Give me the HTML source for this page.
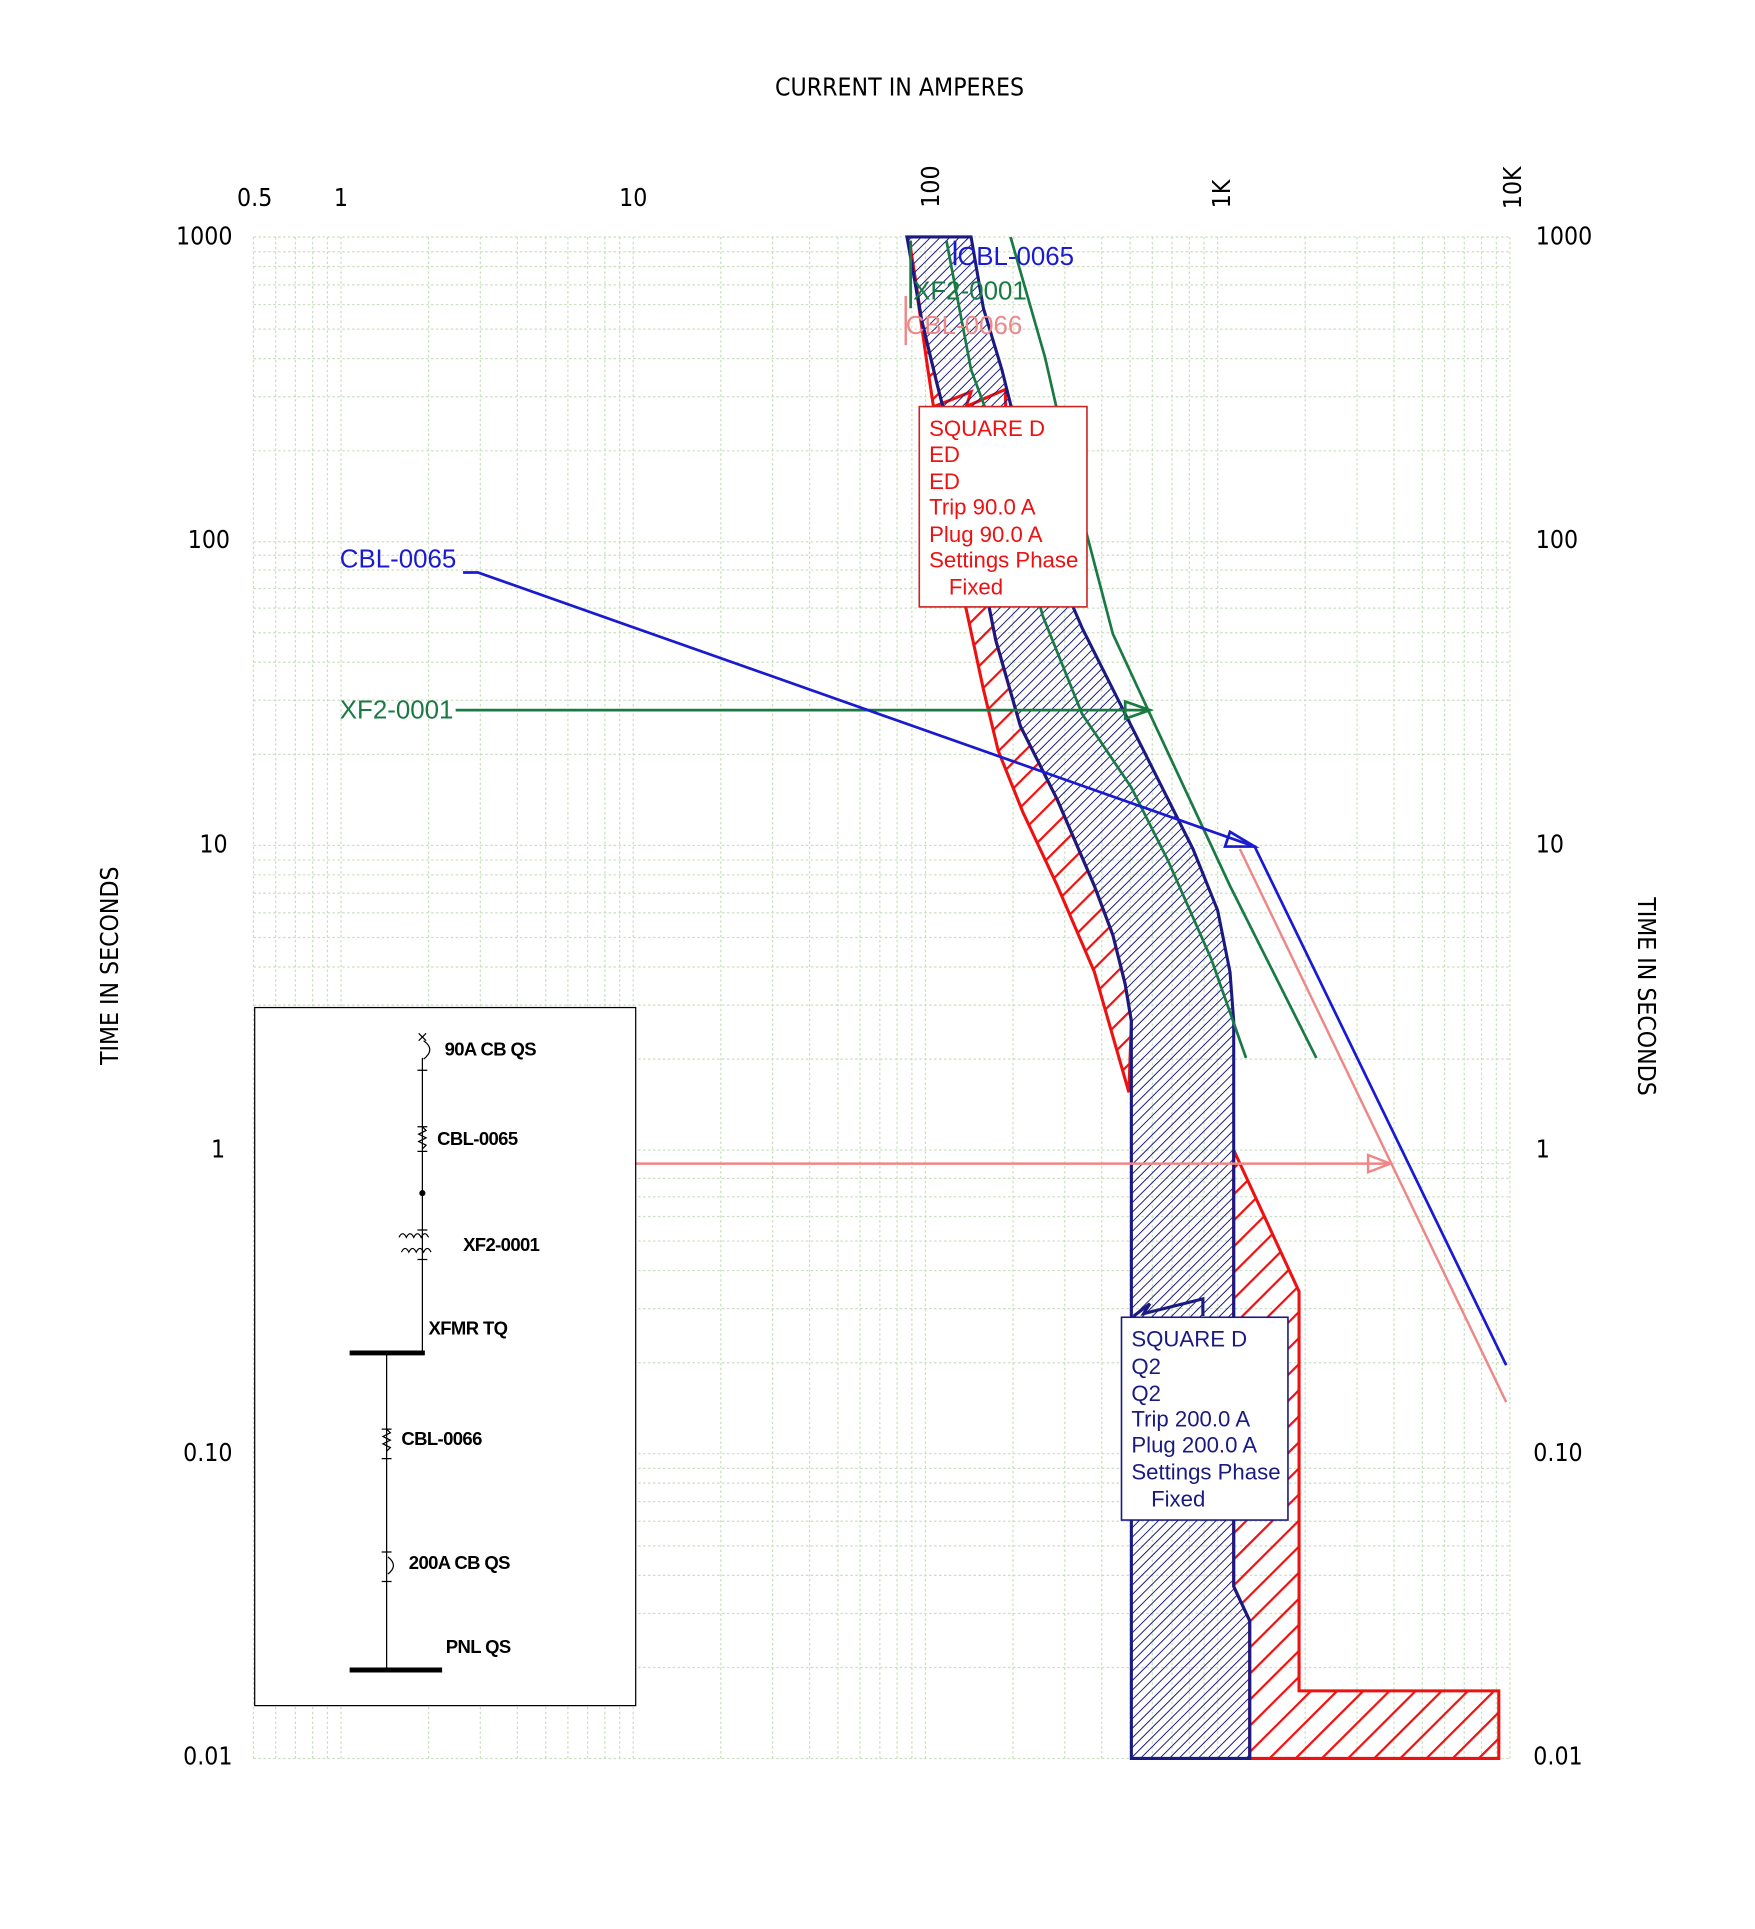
<!DOCTYPE html>
<html><head><meta charset="utf-8"><style>html,body{margin:0;padding:0;background:#fff}svg{display:block}</style></head>
<body>
<svg width="1755" height="1929" viewBox="0 0 1755 1929" xmlns="http://www.w3.org/2000/svg">
<defs>
<pattern id="hb" patternUnits="userSpaceOnUse" width="5.5" height="5.5" patternTransform="rotate(45)"><line x1="0" y1="0" x2="0" y2="5.5" stroke="#1a1a80" stroke-width="1.6"/></pattern>
<pattern id="hr" patternUnits="userSpaceOnUse" width="15" height="15" patternTransform="rotate(45)"><line x1="0" y1="0" x2="0" y2="15" stroke="#ee1111" stroke-width="3.6"/></pattern>
</defs>
<rect width="1755" height="1929" fill="#fff"/>
<g transform="matrix(1.233 0 0 1.229 -3 1)">
<g stroke="#c9dfbf" stroke-width="1" stroke-dasharray="2 2" fill="none">
<path d="M208 192V1430M226 192V1430M242 192V1430M256 192V1430M268 192V1430M279 192V1430M350 192V1430M392 192V1430M422 192V1430M445 192V1430M463 192V1430M479 192V1430M493 192V1430M505 192V1430M516 192V1430M587 192V1430M629 192V1430M659 192V1430M682 192V1430M700 192V1430M716 192V1430M730 192V1430M742 192V1430M753 192V1430M824 192V1430M866 192V1430M896 192V1430M919 192V1430M937 192V1430M953 192V1430M967 192V1430M979 192V1430M990 192V1430M1061 192V1430M1103 192V1430M1133 192V1430M1156 192V1430M1174 192V1430M1190 192V1430M1204 192V1430M1216 192V1430M1227 192V1430"/>
<path d="M208 1430H1227M208 1356H1227M208 1312H1227M208 1281H1227M208 1257H1227M208 1237H1227M208 1221H1227M208 1206H1227M208 1194H1227M208 1182H1227M208 1108H1227M208 1064H1227M208 1033H1227M208 1009H1227M208 989H1227M208 973H1227M208 958H1227M208 946H1227M208 935H1227M208 861H1227M208 817H1227M208 786H1227M208 762H1227M208 742H1227M208 726H1227M208 711H1227M208 699H1227M208 687H1227M208 613H1227M208 569H1227M208 538H1227M208 514H1227M208 494H1227M208 478H1227M208 463H1227M208 451H1227M208 440H1227M208 366H1227M208 322H1227M208 291H1227M208 267H1227M208 247H1227M208 231H1227M208 216H1227M208 204H1227M208 192H1227"/>
</g>

<g font-family="'DejaVu Sans Condensed','Liberation Sans Narrow','Liberation Sans',sans-serif" font-size="20" fill="#000" font-weight="300">
<text x="732" y="77" text-anchor="middle">CURRENT  IN  AMPERES</text>
<text x="209" y="167" text-anchor="middle">0.5</text>
<text x="279" y="167" text-anchor="middle">1</text>
<text x="516" y="167" text-anchor="middle">10</text>
<text transform="translate(764,151) rotate(-90)" text-anchor="middle">100</text>
<text transform="translate(1000,157) rotate(-90)" text-anchor="middle">1K</text>
<text transform="translate(1236,152) rotate(-90)" text-anchor="middle">10K</text>
<g text-anchor="end">
<text x="191" y="198">1000</text><text x="189" y="445">100</text><text x="187" y="693">10</text><text x="185" y="941">1</text><text x="191" y="1188">0.10</text><text x="191" y="1435">0.01</text>
</g>
<text x="1248" y="198">1000</text><text x="1248" y="445">100</text><text x="1248" y="693">10</text><text x="1248" y="941">1</text><text x="1246" y="1188">0.10</text><text x="1246" y="1435">0.01</text>
<text transform="translate(98,785) rotate(-90)" text-anchor="middle">TIME  IN  SECONDS</text>
<text transform="translate(1331,810) rotate(90)" text-anchor="middle">TIME  IN  SECONDS</text>
</g>

<path d="M740 195 L755 300 L770 400 L785 490 L800 560 L812 610 L832 660 L860 720 L890 790 L918 888 L920 830 L915 800 L905 760 L890 720 L860 650 L830 590 L810 520 L790 420 L762 310 L750 260 Z" fill="url(#hr)" stroke="#ee1111" stroke-width="2.5"/>
<path d="M1003 935 L1056 1050 L1056 1375 L1218 1375 L1218 1430 L1016 1430 L1016 1318 L1003 1290 Z" fill="url(#hr)" stroke="#ee1111" stroke-width="2.5"/>
<path d="M760 330 L790 318 L786 330 L818 316 L818 330" fill="none" stroke="#ee1111" stroke-width="2.5"/>

<path d="M738 192 L750 260 L762 310 L790 420 L810 520 L830 590 L860 650 L890 720 L905 760 L915 800 L920 830 L920 1430 L1016 1430 L1016 1318 L1003 1290 L1003 830 L1000 790 L990 740 L970 690 L940 630 L910 570 L880 510 L850 440 L830 360 L815 300 L800 250 L790 192 Z" fill="url(#hb)" stroke="#1a1a80" stroke-width="2.5"/>
<path d="M922 1070 L935 1060 L930 1068 L978 1056 L978 1070" fill="none" stroke="#1a1a80" stroke-width="2.5"/>

<g stroke="#1a7a44" stroke-width="2.2" fill="none">
<path d="M770 195 L790 300 L812 360 L830 430 L848 500 L880 580 L920 640 L950 700 L985 780 L1013 860"/>
<path d="M822 192 L850 290 L875 400 L905 515 L935 580 L1000 720 L1070 860"/>
<path d="M741 195 V250"/>
<path d="M372 577 H935 M915 570 L935 577 L915 584 Z"/>
</g>
<g stroke="#1a1ad0" stroke-width="2.2" fill="none">
<path d="M378 465 H390 L1020 688 L1224 1110"/>
<path d="M1020 688 L1000 676 L996 688 Z"/>
<path d="M777 195 V215"/>
</g>
<g stroke="#ee8888" stroke-width="2" fill="none">
<path d="M1008 690 L1224 1140"/>
<path d="M518 946 H1130 M1112 939 L1130 946 L1112 953 Z"/>
<path d="M737 240 V280"/>
</g>

<g font-family="'Liberation Sans',sans-serif" font-size="21">
<text x="779" y="215" fill="#1a1ad0">CBL-0065</text>
<text x="743" y="243" fill="#1a7a44">XF2-0001</text>
<text x="737" y="271" fill="#ee8888">CBL-0066</text>
<text x="278" y="461" fill="#1a1ad0">CBL-0065</text>
<text x="278" y="584" fill="#1a7a44">XF2-0001</text>
</g>

<rect x="748" y="330" width="136" height="163" fill="#fff" stroke="#cc2222" stroke-width="1.3"/>
<g font-family="'Liberation Sans',sans-serif" font-size="18" fill="#ee1111">
<text x="756" y="354">SQUARE D</text><text x="756" y="375">ED</text><text x="756" y="397">ED</text><text x="756" y="418">Trip 90.0 A</text><text x="756" y="440">Plug 90.0 A</text><text x="756" y="461">Settings Phase</text><text x="772" y="483">Fixed</text>
</g>
<rect x="912" y="1071" width="135" height="165" fill="#fff" stroke="#1a1a80" stroke-width="1.3"/>
<g font-family="'Liberation Sans',sans-serif" font-size="18" fill="#1a1a80">
<text x="920" y="1095">SQUARE D</text><text x="920" y="1117">Q2</text><text x="920" y="1139">Q2</text><text x="920" y="1160">Trip 200.0 A</text><text x="920" y="1181">Plug 200.0 A</text><text x="920" y="1203">Settings Phase</text><text x="936" y="1225">Fixed</text>
</g>

<rect x="209" y="819" width="309" height="568" fill="#fff" stroke="#000" stroke-width="1"/>
<g stroke="#000" stroke-width="1" fill="none">
<path d="M345 860 V1100"/>
<path d="M342 840 L348 846 M348 840 L342 846"/>
<path d="M346 846 Q356 853 346 861"/>
<path d="M341 870 H349 M341 916 H349 M341 936 H349"/>
<path d="M345 916 l3 3 l-6 3 l6 3 l-6 3 l6 3 l-3 3"/>
<path d="M341 1000 H349 M341 1024 H349"/>
<path d="M326 1006 q3 -6 6 0 q3 -6 6 0 q3 -6 6 0 q3 -6 6 0"/>
<path d="M328 1018 q3 -6 6 0 q3 -6 6 0 q3 -6 6 0 q3 -6 6 0"/>
<path d="M316 1100 V1358"/>
<path d="M312 1162 H320 M312 1186 H320"/>
<path d="M316 1162 l3 3 l-6 3 l6 3 l-6 3 l6 3 l-3 3"/>
<path d="M312 1262 H320 M312 1286 H320 M317 1266 Q326 1273 317 1280"/>
</g>
<circle cx="345" cy="970" r="2.5" fill="#000"/>
<path d="M286 1100 H347 M286 1358 H361" stroke="#000" stroke-width="4"/>
<g font-family="'Liberation Sans',sans-serif" font-size="15" font-weight="bold" fill="#000" letter-spacing="-0.5">
<text x="363" y="858">90A CB QS</text>
<text x="357" y="931">CBL-0065</text>
<text x="378" y="1017">XF2-0001</text>
<text x="350" y="1085">XFMR TQ</text>
<text x="328" y="1175">CBL-0066</text>
<text x="334" y="1276">200A CB QS</text>
<text x="364" y="1344">PNL QS</text>
</g>
</g>
</svg>
</body></html>
